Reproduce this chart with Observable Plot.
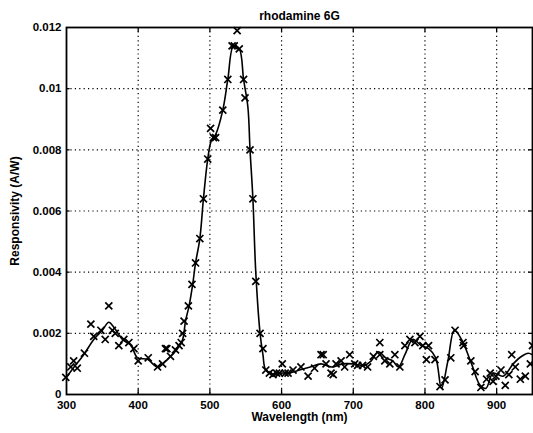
<!DOCTYPE html>
<html>
<head>
<meta charset="utf-8">
<script src="https://cdn.jsdelivr.net/npm/d3@7"></script>
<script src="https://cdn.jsdelivr.net/npm/@observablehq/plot@0.6"></script>
<style>
  html, body { margin: 0; padding: 0; background: #fff; }
  #chart svg { display: block; }
</style>
</head>
<body>
<div id="chart"></div>
<script>
// Smooth fitted curve
const lineWavelength = [300,310,324,338,350,359,366,378,390,399,413,427,441,455,462,466,471,476,480,486,491,497,502,508,518,525,533,541,547,553,556,560,564,570,574,578,590,600,610,625,640,655,670,685,700,715,725,735,745,755,763,772,783,795,805,815,823,832,841,851,865,877,885,895,909,923,935,944,950];
const lineResp = [0.00056,0.00088,0.0013,0.0018,0.0021,0.00236,0.0022,0.0018,0.0016,0.0012,0.00115,0.0009,0.00115,0.0015,0.0018,0.0024,0.0029,0.0036,0.0043,0.0051,0.0064,0.0077,0.0083,0.0085,0.0093,0.0103,0.0114,0.0113,0.0103,0.0094,0.0080,0.0064,0.0040,0.0020,0.0013,0.0008,0.00065,0.0007,0.0007,0.0008,0.0009,0.0010,0.0009,0.0010,0.0010,0.00095,0.0011,0.0014,0.0012,0.0011,0.0009,0.0013,0.0018,0.0016,0.0015,0.0012,0.0002,0.0011,0.0021,0.0018,0.0010,0.0003,0.0002,0.0007,0.0006,0.0010,0.00125,0.00135,0.0013];

// Measured points (x markers)
const ptWavelength = [299,306,310,315,325,334,338,348,354,359,364,368,373,380,387,394,400,414,427,434,438,440,445,452,457,460,462,464,470,475,480,486,491,497,501,505,508,518,525,531,534,538,541,547,549,556,560,564,570,574,578,583,588,593,597,601,605,609,616,627,637,646,655,658,662,669,672,676,683,688,695,702,706,713,720,728,737,737,744,751,758,765,772,779,786,793,797,802,805,814,821,828,836,842,853,854,864,870,878,886,891,895,899,906,912,917,921,926,933,940,947,950];
const ptResp = [0.00056,0.0009,0.0011,0.00086,0.00135,0.0023,0.0019,0.0021,0.0018,0.0029,0.0021,0.0020,0.0016,0.0018,0.0017,0.0015,0.0011,0.0012,0.0009,0.0010,0.0015,0.0015,0.00125,0.00146,0.0016,0.0017,0.0020,0.0024,0.0029,0.0036,0.0043,0.0051,0.0064,0.0077,0.0087,0.0084,0.0084,0.0093,0.0103,0.0114,0.0114,0.0119,0.0113,0.0103,0.0097,0.0080,0.0064,0.0037,0.0020,0.0015,0.0008,0.0007,0.00065,0.0007,0.0007,0.0010,0.0007,0.0007,0.0008,0.0009,0.0006,0.00086,0.0013,0.0013,0.0010,0.0007,0.00065,0.0010,0.0011,0.0009,0.0013,0.0010,0.00095,0.00095,0.0009,0.00125,0.0017,0.0013,0.0011,0.0010,0.0013,0.0009,0.0016,0.0018,0.0017,0.0019,0.0016,0.00114,0.0016,0.00114,0.00026,0.00048,0.0012,0.0021,0.0017,0.0016,0.0011,0.00075,0.00023,0.0005,0.0007,0.00043,0.0006,0.0008,0.0003,0.00065,0.0013,0.0009,0.0005,0.0006,0.0010,0.0016];

const xTicks = [300,400,500,600,700,800,900];
const yTicks = [0,0.002,0.004,0.006,0.008,0.01,0.012];
const yTickLabels = ["0","0.002","0.004","0.006","0.008","0.01","0.012"];
const title = "rhodamine 6G";
const xLabel = "Wavelength (nm)";
const yLabel = "Responsivity (A/W)";

const lineData = lineWavelength.map((x, i) => ({x, y: lineResp[i]}));
const ptData = ptWavelength.map((x, i) => ({x, y: ptResp[i]}));

const chart = Plot.plot({
  width: 533,
  height: 433,
  marginLeft: 66,
  marginRight: 1,
  marginTop: 27,
  marginBottom: 39,
  style: {fontFamily: "'Liberation Sans', Arial, sans-serif", fontWeight: "bold", fontSize: "12px", color: "#000", background: "#fff"},
  x: {domain: [300, 950]},
  y: {domain: [0, 0.012]},
  marks: [
    Plot.gridX(xTicks.slice(1), {stroke: "#000", strokeOpacity: 1, strokeWidth: 1.2, strokeDasharray: "1.2,3.2"}),
    Plot.gridY(yTicks.slice(1, -1), {stroke: "#000", strokeOpacity: 1, strokeWidth: 1.2, strokeDasharray: "1.2,3.2"}),
    Plot.ruleX(xTicks.slice(1), {y1: 0, y2: 0.00016, stroke: "#000", strokeWidth: 1.3}),
    Plot.ruleX(xTicks.slice(1), {y1: 0.012, y2: 0.01184, stroke: "#000", strokeWidth: 1.3}),
    Plot.ruleY(yTicks.slice(1, -1), {x1: 300, x2: 305, stroke: "#000", strokeWidth: 1.3}),
    Plot.ruleY(yTicks.slice(1, -1), {x1: 950, x2: 945, stroke: "#000", strokeWidth: 1.3}),
    Plot.frame({stroke: "#000", strokeWidth: 1.8}),
    Plot.line(lineData, {x: "x", y: "y", curve: "catmull-rom", stroke: "#000", strokeWidth: 1.6}),
    Plot.dot(ptData, {x: "x", y: "y", symbol: "times", r: 3.3, stroke: "#000", strokeWidth: 1.7}),
    Plot.axisX(xTicks, {tickSize: 0, tickPadding: 6, fontSize: 11.5, fontWeight: "bold", label: null}),
    Plot.axisY(yTicks, {tickSize: 0, tickPadding: 5, fontSize: 11.5, fontWeight: "bold", label: null, tickFormat: (d) => yTickLabels[yTicks.indexOf(d)]}),
    Plot.text([xLabel], {frameAnchor: "bottom", dy: 26, fontSize: 12, fontWeight: "bold", textAnchor: "middle"}),
    Plot.text([yLabel], {frameAnchor: "left", dx: -51, rotate: -90, fontSize: 12, fontWeight: "bold", textAnchor: "middle"}),
    Plot.text([title], {frameAnchor: "top", dy: -16, fontSize: 12, fontWeight: "bold", textAnchor: "middle"})
  ]
});
document.getElementById("chart").appendChild(chart);
</script>
</body>
</html>
